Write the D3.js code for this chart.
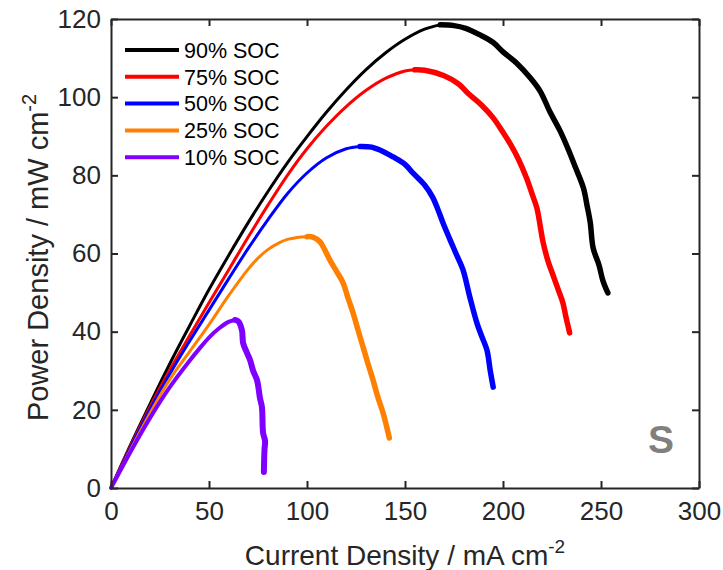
<!DOCTYPE html>
<html>
<head>
<meta charset="utf-8">
<script src="https://cdn.jsdelivr.net/npm/d3@7"></script>
<style>
  body { margin: 0; background: #fff; }
  text { font-family: Arial, "Liberation Sans", sans-serif; fill: #262626; }
</style>
</head>
<body>
<div id="chart"></div>
<script>
// current density (mA cm-2) and power density (mW cm-2)
var soc90_i = [0, 10, 20, 30, 40, 50, 60, 70, 80, 90, 100, 110, 120, 130, 140, 150, 160, 168, 175, 181, 188, 195, 200, 207, 214, 219, 224, 229, 233, 237, 241, 243, 244.5, 246, 249, 251, 253.5];
var soc90_p = [0, 11.1, 21.6, 31.8, 41.4, 50.8, 59.5, 67.9, 75.8, 83.2, 89.9, 96.2, 101.9, 107, 111.3, 114.8, 117.4, 118.5, 118.3, 117.6, 116, 114, 111.6, 108.7, 104.9, 101.5, 96.2, 91.5, 87, 82, 76.8, 72, 68, 61.4, 57, 53, 49.9];

var soc75_i = [0, 10, 20, 30, 40, 50, 60, 70, 80, 90, 100, 110, 120, 130, 140, 150, 155, 160, 170, 177, 183, 189, 195, 200, 204, 208, 212, 215, 217.3, 219, 220.4, 223, 225.5, 228, 230.6, 232, 234];
var soc75_p = [0, 10.8, 20.9, 30.2, 38.9, 47.4, 55.8, 64.2, 72.3, 80, 86.8, 92.6, 97.6, 101.7, 104.8, 106.7, 107, 106.9, 105.5, 103.5, 100.6, 98, 94.7, 91, 87.8, 84, 79.3, 75, 71.6, 67, 63, 58, 54.5, 51, 47.3, 44, 39.7];

var soc50_i = [0, 10, 20, 30, 40, 50, 60, 70, 80, 90, 100, 110, 120, 127, 133, 140, 144, 150, 154, 160, 164, 167, 169.4, 173, 176, 179.6, 183, 186.7, 189, 191.8, 193.5, 195];
var soc50_p = [0, 10.4, 20.2, 29.2, 37.5, 45.5, 53.5, 61.3, 68.6, 75.3, 80.6, 84.5, 86.8, 87.4, 87.2, 85.8, 84.7, 82.8, 80.6, 77.5, 74.5, 71, 67.8, 63.5, 60, 55.8, 49, 42.2, 39, 35.3, 30, 25.8];

var soc25_i = [0, 10, 20, 30, 40, 50, 60, 70, 75, 80, 86, 90, 95, 100, 103, 106.6, 109, 111.7, 115, 118.4, 121, 123.5, 126, 128.6, 131, 133.7, 136, 138.8, 140.5, 142];
var soc25_p = [0, 9.8, 19.2, 27.8, 34.8, 41.8, 49.2, 56, 58.8, 61, 62.8, 63.6, 64.1, 64.3, 64.2, 63, 61, 58.3, 55.5, 52.5, 48.5, 44.8, 40.5, 36.1, 32, 27.6, 23.5, 19.2, 16, 12.8];

var soc10_i = [0, 10, 20, 30, 40, 45, 50, 55, 60, 63.3, 65, 66.8, 67.4, 69, 70.9, 72.5, 74.5, 76, 77, 77.6, 78.6, 78.3, 78];
var soc10_p = [0, 9.3, 18, 25.8, 32.5, 35.6, 38.5, 40.8, 42.5, 43, 42.6, 40.4, 37.1, 35, 32.8, 30, 27.6, 23, 20.7, 14.1, 12, 9.7, 4.1];

var series_names = ["90% SOC", "75% SOC", "50% SOC", "25% SOC", "10% SOC"];
var series_colors = ["#000000", "#ff0000", "#0000ff", "#ff8000", "#8000ff"];
var series_i = [soc90_i, soc75_i, soc50_i, soc25_i, soc10_i];
var series_p = [soc90_p, soc75_p, soc50_p, soc25_p, soc10_p];

var x_ticks = [0, 50, 100, 150, 200, 250, 300];
var y_ticks = [0, 20, 40, 60, 80, 100, 120];

var W = 723, H = 570;
var margin = { top: 19, right: 24, bottom: 82, left: 111 };
var width = W - margin.left - margin.right;
var height = H - margin.top - margin.bottom;

var svg = d3.select("#chart").append("svg")
    .attr("width", W)
    .attr("height", H);

var g = svg.append("g")
    .attr("transform", "translate(" + margin.left + "," + margin.top + ")");

var x = d3.scaleLinear().domain([0, 300]).range([0, width]);
var y = d3.scaleLinear().domain([0, 120]).range([height, 0]);

var line = d3.line()
    .x(function (d) { return x(d[0]); })
    .y(function (d) { return y(d[1]); })
    .curve(d3.curveCatmullRom.alpha(0.5));

// draw curves, the noisy discharge tail after the peak is drawn thicker
series_i.forEach(function (xs, k) {
    var pts = xs.map(function (v, j) { return [v, series_p[k][j]]; });
    var peak = d3.maxIndex(pts, function (d) { return d[1]; });
    g.append("path")
        .datum(pts.slice(0, peak + 1))
        .attr("d", line)
        .attr("fill", "none")
        .attr("stroke", series_colors[k])
        .attr("stroke-width", k == 4 ? 4 : 3)
        .attr("stroke-linecap", "round");
    g.append("path")
        .datum(pts.slice(peak))
        .attr("d", line)
        .attr("fill", "none")
        .attr("stroke", series_colors[k])
        .attr("stroke-width", k == 4 ? 6 : 5.5)
        .attr("stroke-linejoin", "round")
        .attr("stroke-linecap", "round");
});

// axes, ticks pointing inward, box on all sides
var axisColor = "#262626";
var xAxis = d3.axisBottom(x).tickValues(x_ticks).tickSizeInner(-7).tickSizeOuter(0).tickPadding(14);
var yAxis = d3.axisLeft(y).tickValues(y_ticks).tickSizeInner(-7).tickSizeOuter(0).tickPadding(10);
var xTop = d3.axisTop(x).tickValues(x_ticks).tickSizeInner(-7).tickSizeOuter(0).tickFormat("");
var yRight = d3.axisRight(y).tickValues(y_ticks).tickSizeInner(-7).tickSizeOuter(0).tickFormat("");

g.append("g").attr("transform", "translate(0," + height + ")").call(xAxis);
g.append("g").call(yAxis);
g.append("g").call(xTop);
g.append("g").attr("transform", "translate(" + width + ",0)").call(yRight);

g.selectAll(".domain").attr("stroke", axisColor).attr("stroke-width", 2);
g.selectAll(".tick line").attr("stroke", axisColor).attr("stroke-width", 2);
g.selectAll(".tick text")
    .style("font-size", "26px")
    .style("font-family", "Arial, 'Liberation Sans', sans-serif")
    .attr("fill", axisColor);

// axis labels
var xl = svg.append("text")
    .attr("x", margin.left + width / 2)
    .attr("y", 565)
    .attr("text-anchor", "middle")
    .style("font-size", "28px");
xl.append("tspan").text("Current Density / mA cm");
xl.append("tspan").attr("dy", -12).style("font-size", "19px").text("-2");

var yl = svg.append("text")
    .attr("transform", "translate(48," + (margin.top + height / 2 + 4) + ") rotate(-90)")
    .attr("text-anchor", "middle")
    .style("font-size", "29px");
yl.append("tspan").text("Power Density / mW cm");
yl.append("tspan").attr("dy", -12).style("font-size", "20px").text("-2");

// panel letter
svg.append("text")
    .attr("x", 648)
    .attr("y", 453)
    .style("font-size", "39px")
    .style("font-weight", "bold")
    .style("fill", "#808080")
    .text("S");

// legend
var legend = svg.append("g").attr("transform", "translate(125,50)");
series_names.forEach(function (name, k) {
    var row = legend.append("g").attr("transform", "translate(0," + (k * 26.8) + ")");
    row.append("line")
        .attr("x1", 0).attr("x2", 54)
        .attr("y1", 0).attr("y2", 0)
        .attr("stroke", series_colors[k])
        .attr("stroke-width", 4);
    row.append("text")
        .attr("x", 59)
        .attr("y", 0)
        .attr("dy", "0.36em")
        .style("font-size", "21.5px")
        .style("fill", "#000")
        .text(name);
});
</script>
</body>
</html>
